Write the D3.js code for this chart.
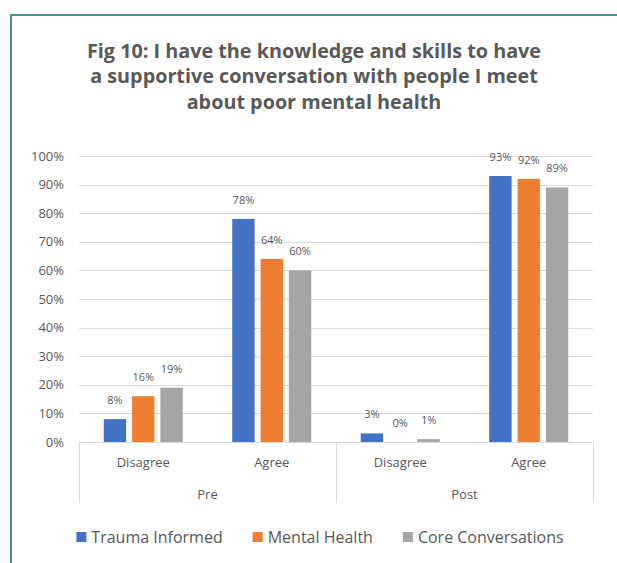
<!DOCTYPE html>
<html>
<head>
<meta charset="utf-8">
<script src="https://cdn.jsdelivr.net/npm/d3@7"></script>
<style>
  body { margin: 0; background: #fff; }
  text { font-family: "Open Sans", Lato, sans-serif; fill: #595959; }
</style>
</head>
<body>
<script>
// chart data
const groups = ["Pre", "Post"];
const responses = ["Disagree", "Agree"];
const seriesNames = ["Trauma Informed", "Mental Health", "Core Conversations"];
const traumaInformed = [0.08, 0.78, 0.03, 0.93];
const mentalHealth = [0.16, 0.64, 0.00, 0.92];
const coreConversations = [0.19, 0.60, 0.01, 0.89];
const yTicks = [0, 0.1, 0.2, 0.3, 0.4, 0.5, 0.6, 0.7, 0.8, 0.9, 1.0];
const titleLines = [
  "Fig 10: I have the knowledge and skills to have",
  "a supportive conversation with people I meet",
  "about poor mental health"
];

const colors = ["#4472c4", "#ed7d31", "#a5a5a5"];
const seriesValues = [traumaInformed, mentalHealth, coreConversations];

const w = 617, h = 563;
const margin = { top: 156, right: 24, bottom: 122, left: 79 };

const svg = d3.select("body").append("svg")
  .attr("width", w)
  .attr("height", h);

// frame around the chart
svg.append("path")
  .attr("d", `M11,${h} V15 H${w}`)
  .attr("fill", "none")
  .attr("stroke", "#3a9d85")
  .attr("stroke-width", 2);

// title
svg.append("g").selectAll("text")
  .data(titleLines)
  .join("text")
  .attr("x", 314)
  .attr("y", (d, i) => 57.5 + i * 25.8)
  .attr("text-anchor", "middle")
  .style("font-size", "19.8px")
  .style("font-weight", "bold")
  .text(d => d);

// categories: one per group/response pair
const categories = [];
groups.forEach(g => responses.forEach(r => categories.push(g + "|" + r)));

const x0 = d3.scaleBand()
  .domain(categories)
  .range([margin.left, w - margin.right]);

const groupWidth = x0.bandwidth() * 0.615;
const x1 = d3.scaleBand()
  .domain(seriesNames)
  .range([-groupWidth / 2, groupWidth / 2])
  .paddingInner(0.21);

const y = d3.scaleLinear()
  .domain([0, 1])
  .range([h - margin.bottom + 1, margin.top]);

// gridlines
svg.append("g").selectAll("line")
  .data(yTicks)
  .join("line")
  .attr("x1", margin.left)
  .attr("x2", w - margin.right)
  .attr("y1", d => Math.round(y(d)) + 0.5)
  .attr("y2", d => Math.round(y(d)) + 0.5)
  .attr("stroke", "#d9d9d9")
  .attr("stroke-width", 1);

// y axis labels
const yAxis = d3.axisLeft(y)
  .tickValues(yTicks)
  .tickFormat(d3.format(".0%"))
  .tickSize(0)
  .tickPadding(0);

const yAxisG = svg.append("g")
  .attr("transform", `translate(64,0)`)
  .call(yAxis);
yAxisG.select(".domain").remove();
yAxisG.selectAll("text")
  .style("font-size", "13px")
  .style("font-family", "'Open Sans', sans-serif")
  .attr("fill", "#595959");

// bars
const rows = categories.map((c, i) => ({
  key: c,
  values: seriesNames.map((s, j) => ({ series: s, idx: j, value: seriesValues[j][i] }))
}));

const catG = svg.append("g").selectAll("g")
  .data(rows)
  .join("g")
  .attr("transform", d => `translate(${x0(d.key) + x0.bandwidth() / 2},0)`);

catG.selectAll("rect")
  .data(d => d.values)
  .join("rect")
  .attr("x", d => x1(d.series))
  .attr("width", x1.bandwidth())
  .attr("y", d => y(d.value))
  .attr("height", d => y(0) - y(d.value))
  .attr("fill", d => colors[d.idx]);

catG.selectAll("text")
  .data(d => d.values)
  .join("text")
  .attr("x", d => x1(d.series) + x1.bandwidth() / 2)
  .attr("y", d => y(d.value) - 15)
  .attr("text-anchor", "middle")
  .style("font-size", "11px")
  .text(d => d3.format(".0%")(d.value));

// category axis box
const axisY = Math.round(y(0)) + 0.5;
svg.append("line")
  .attr("x1", margin.left).attr("x2", w - margin.right)
  .attr("y1", axisY).attr("y2", axisY)
  .attr("stroke", "#d9d9d9");

const dividers = [x0(categories[0]), x0(categories[2]), x0(categories[3]) + x0.bandwidth()];
svg.append("g").selectAll("line")
  .data(dividers)
  .join("line")
  .attr("x1", d => Math.round(d) + 0.5)
  .attr("x2", d => Math.round(d) + 0.5)
  .attr("y1", axisY)
  .attr("y2", 503)
  .attr("stroke", "#d9d9d9");

svg.append("g").selectAll("text")
  .data(categories)
  .join("text")
  .attr("x", d => x0(d) + x0.bandwidth() / 2)
  .attr("y", 467)
  .attr("text-anchor", "middle")
  .style("font-size", "13px")
  .text(d => d.split("|")[1]);

svg.append("g").selectAll("text")
  .data(groups)
  .join("text")
  .attr("x", g => x0(g + "|" + responses[0]) + x0.bandwidth())
  .attr("y", 499)
  .attr("text-anchor", "middle")
  .style("font-size", "13px")
  .text(d => d);

// legend
const legend = svg.append("g");
let lx = 0;
seriesNames.forEach((s, i) => {
  const item = legend.append("g").attr("transform", `translate(${lx},0)`);
  item.append("rect")
    .attr("x", 0).attr("y", 532)
    .attr("width", 10).attr("height", 10)
    .attr("fill", colors[i]);
  const t = item.append("text")
    .attr("x", 15).attr("y", 542.5)
    .style("font-size", "16px")
    .text(s);
  lx += 15 + t.node().getComputedTextLength() + 30;
});
const legendWidth = lx - 30;
legend.attr("transform", `translate(${320 - legendWidth / 2},0)`);
</script>
</body>
</html>
